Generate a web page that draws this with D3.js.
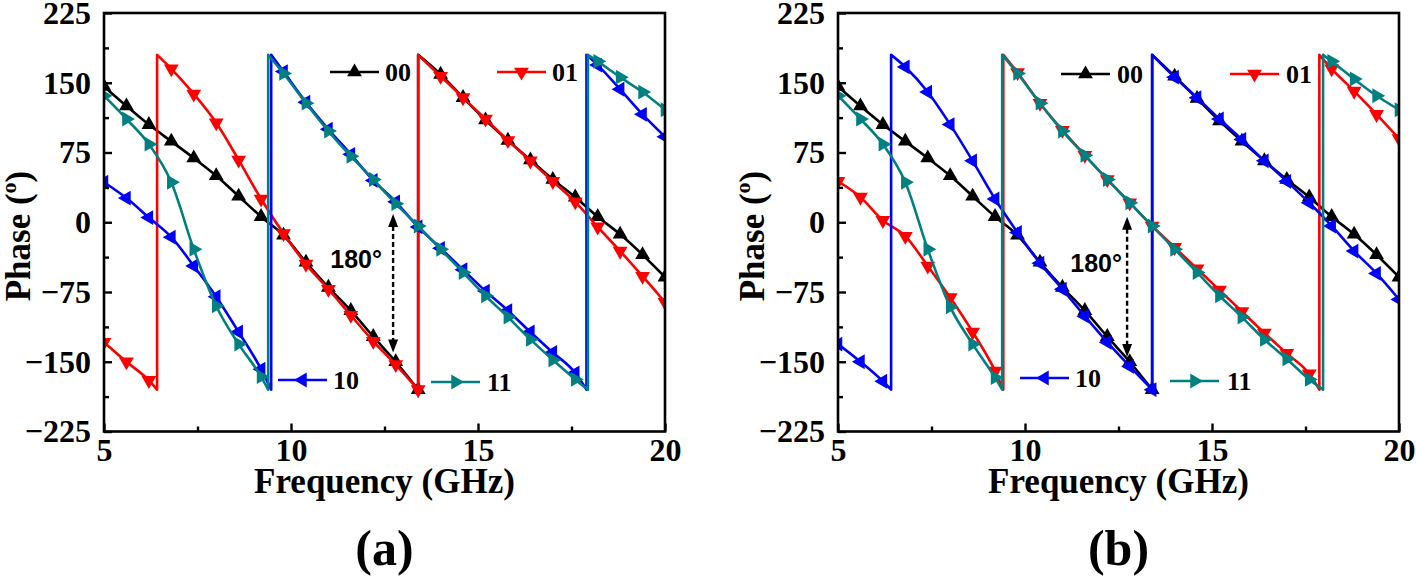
<!DOCTYPE html>
<html><head><meta charset="utf-8">
<script src="https://cdn.jsdelivr.net/npm/d3@7/dist/d3.min.js"></script>
<style>
body{margin:0;background:#fff}
#chart text{font-family:"Liberation Serif";font-weight:bold}
#chart text.sans{font-family:"Liberation Sans"}
</style>
</head><body>
<svg id="chart" width="1416" height="579"></svg>
<script>
// ---------- data ----------
const xTicks = [5, 10, 15, 20];
const xMinor = [7.5, 12.5, 17.5];
const yTicks = [-225, -150, -75, 0, 75, 150, 225];
const yMinor = [-187.5, -112.5, -37.5, 37.5, 112.5, 187.5];
const seriesNames = ["00", "01", "10", "11"];
const seriesColors = ["#000000", "#ff0000", "#0000ff", "#008080"];
const seriesShapes = ["up", "down", "left", "right"];
const panelLabels = ["(a)", "(b)"];

// panel (a) phase (deg) vs frequency (GHz); repeated frequency = phase wrap
const a00 = [[5.0,146],[5.6,125],[6.2,105],[6.8,87],[7.4,69],[8.0,50],[8.6,28],[9.2,6],[9.8,-14],[10.4,-43],[11.0,-70],[11.6,-95],[12.2,-123],[12.8,-150],[13.4,-180],[13.4,180],[14.0,159],[14.6,134],[15.2,110],[15.8,88],[16.4,67],[17.0,46],[17.6,27],[18.2,6],[18.8,-13],[19.4,-35],[20.0,-59]];
const a01 = [[5.0,-129],[5.6,-150],[6.2,-170],[6.42,-180],[6.42,180],[6.8,165],[7.4,138],[8.0,107],[8.6,67],[9.2,25],[9.8,-12],[10.4,-45],[11.0,-72],[11.6,-100],[12.2,-128],[12.8,-153],[13.4,-180],[13.4,180],[14.0,157],[14.6,134],[15.2,111],[15.8,88],[16.4,66],[17.0,44],[17.6,22],[18.2,-5],[18.8,-31],[19.4,-58],[20.0,-86]];
const a10 = [[5.0,43],[5.6,26],[6.2,5],[6.8,-16],[7.4,-47],[8.0,-80],[8.6,-118],[9.2,-158],[9.47,-180],[9.47,180],[9.8,162],[10.4,129],[11.0,100],[11.6,73],[12.2,45],[12.8,22],[13.4,-5],[14.0,-28],[14.6,-51],[15.2,-74],[15.8,-95],[16.4,-118],[17.0,-140],[17.6,-162],[17.9,-180],[17.9,180],[18.2,169],[18.8,143],[19.4,116],[20.0,92]];
const a11 = [[5.0,136],[5.6,111],[6.2,84],[6.8,43],[7.4,-29],[8.0,-90],[8.6,-131],[9.2,-166],[9.39,-180],[9.39,180],[9.8,160],[10.4,128],[11.0,98],[11.6,71],[12.2,46],[12.8,20],[13.4,-4],[14.0,-29],[14.6,-54],[15.2,-79],[15.8,-102],[16.4,-126],[17.0,-148],[17.6,-169],[17.94,-180],[17.94,180],[18.2,173],[18.8,156],[19.4,140],[20.0,121]];

// panel (b)
const b00 = [[5.0,146],[5.6,125],[6.2,105],[6.8,87],[7.4,69],[8.0,50],[8.6,28],[9.2,6],[9.8,-14],[10.4,-43],[11.0,-70],[11.6,-95],[12.2,-123],[12.8,-150],[13.4,-180],[13.4,180],[14.0,157],[14.6,133],[15.2,109],[15.8,87],[16.4,66],[17.0,46],[17.6,27],[18.2,6],[18.8,-13],[19.4,-35],[20.0,-59]];
const b01 = [[5.0,44],[5.6,27],[6.2,2],[6.8,-15],[7.4,-47],[8.0,-81],[8.6,-118],[9.2,-160],[9.42,-180],[9.42,180],[9.8,161],[10.4,128],[11.0,99],[11.6,72],[12.2,46],[12.8,21],[13.4,-4],[14.0,-27],[14.6,-50],[15.2,-73],[15.8,-96],[16.4,-119],[17.0,-141],[17.6,-163],[17.87,-180],[17.87,180],[18.2,165],[18.8,141],[19.4,116],[20.0,90]];
const b10 = [[5.0,-131],[5.6,-150],[6.2,-171],[6.42,-180],[6.42,180],[6.8,167],[7.4,140],[8.0,105],[8.6,66],[9.2,25],[9.8,-11],[10.4,-44],[11.0,-72],[11.6,-101],[12.2,-129],[12.8,-155],[13.4,-180],[13.4,180],[14.0,156],[14.6,134],[15.2,111],[15.8,89],[16.4,66],[17.0,44],[17.6,21],[18.2,-4],[18.8,-31],[19.4,-55],[20.0,-83]];
const b11 = [[5.0,136],[5.6,111],[6.2,84],[6.8,43],[7.4,-29],[8.0,-91],[8.6,-131],[9.2,-167],[9.39,-180],[9.39,180],[9.8,160],[10.4,128],[11.0,98],[11.6,72],[12.2,46],[12.8,21],[13.4,-4],[14.0,-29],[14.6,-54],[15.2,-79],[15.8,-102],[16.4,-126],[17.0,-147],[17.6,-169],[17.97,-180],[17.97,180],[18.2,173],[18.8,154],[19.4,136],[20.0,121]];

// annotation: 180 degree difference arrow [freq, phaseTop, phaseBottom]
const arrowA = [12.73, 9, -140];
const arrowB = [12.73, 6, -145];

// ---------- layout ----------
const svg = d3.select("#chart");
const plotTop = 13, plotBottom = 431.5, plotW = 561;
const markerStep = 0.6;

const panels = [
  {left: 104, data: [a00, a01, a10, a11], arrow: arrowA, label: panelLabels[0],
   legend: [[226, 72, 281], [393, 72, 448], [174, 380, 229], [327, 382, 383]],
   lab180: [382, 268]},
  {left: 838, data: [b00, b01, b10, b11], arrow: arrowB, label: panelLabels[1],
   legend: [[223, 74, 279], [392, 74, 448], [182, 378, 237], [332, 381, 389]],
   lab180: [1122, 272]}
];

const rot = {up: 0, down: 180, left: -90, right: 90};
const sym = d3.symbol().type(d3.symbolTriangle).size(95);
const serifText = (sel, size) => sel.style("font-family", '"Liberation Serif"').style("font-weight", "bold")
  .style("font-size", size + "px").attr("fill", "#000");

panels.forEach((P, pi) => {
  const x = d3.scaleLinear().domain([5, 20]).range([P.left, P.left + plotW]);
  const y = d3.scaleLinear().domain([-225, 225]).range([plotBottom, plotTop]);
  const g = svg.append("g");

  const clipId = "clip" + pi;
  svg.append("clipPath").attr("id", clipId).append("rect")
    .attr("x", P.left).attr("y", plotTop).attr("width", plotW).attr("height", plotBottom - plotTop);

  const plot = g.append("g").attr("clip-path", `url(#${clipId})`);
  const line = d3.line().x(d => x(d[0])).y(d => y(d[1])).curve(d3.curveMonotoneX);

  P.data.forEach((pts, si) => {
    const segs = [[pts[0]]];
    for (let i = 1; i < pts.length; i++) {
      if (pts[i][0] === pts[i - 1][0]) segs.push([pts[i]]);
      else segs[segs.length - 1].push(pts[i]);
    }
    const d = segs.map((s, i) => { const p = line(s); return i ? "L" + p.slice(1) : p; }).join("");
    plot.append("path").attr("d", d).attr("fill", "none")
      .attr("stroke", seriesColors[si]).attr("stroke-width", 2.6).attr("stroke-linejoin", "round");
    const seen = new Set();
    pts.forEach(p => {
      const k = (p[0] - 5) / markerStep;
      if (Math.abs(k - Math.round(k)) > 1e-6) return;
      const key = Math.round(k);
      if (seen.has(key)) return;
      seen.add(key);
      plot.append("path").attr("d", sym)
        .attr("transform", `translate(${x(p[0])},${y(p[1])}) rotate(${rot[seriesShapes[si]]})`)
        .attr("fill", seriesColors[si]);
    });
  });

  const axStyle = sel => {
    sel.select(".domain").remove();
    sel.selectAll("line").attr("stroke", "#000").attr("stroke-width", 2.4);
    sel.selectAll("text").call(serifText, 32);
  };
  g.append("g").attr("transform", `translate(0,${plotBottom})`)
    .call(d3.axisBottom(x).tickValues(xTicks).tickFormat(d3.format("d")).tickSizeInner(-8).tickSizeOuter(0).tickPadding(7))
    .call(axStyle);
  g.append("g").attr("transform", `translate(0,${plotBottom})`)
    .call(d3.axisBottom(x).tickValues(xMinor).tickFormat("").tickSizeInner(-5).tickSizeOuter(0))
    .call(axStyle);
  g.append("g").attr("transform", `translate(${P.left},0)`)
    .call(d3.axisLeft(y).tickValues(yTicks).tickFormat(d3.format("d")).tickSizeInner(-8).tickSizeOuter(0).tickPadding(13))
    .call(axStyle);
  g.append("g").attr("transform", `translate(${P.left},0)`)
    .call(d3.axisLeft(y).tickValues(yMinor).tickFormat("").tickSizeInner(-5).tickSizeOuter(0))
    .call(axStyle);

  g.append("rect").attr("x", P.left).attr("y", plotTop).attr("width", plotW).attr("height", plotBottom - plotTop)
    .attr("fill", "none").attr("stroke", "#000").attr("stroke-width", 2.6);

  g.append("text").attr("x", P.left + plotW / 2).attr("y", 493).attr("text-anchor", "middle")
    .call(serifText, 35).text("Frequency (GHz)");
  const yt = g.append("text").attr("transform", `translate(${P.left - 74},236) rotate(-90)`)
    .attr("text-anchor", "middle").call(serifText, 35);
  yt.append("tspan").text("Phase (");
  yt.append("tspan").attr("dy", -14).style("font-size", "22px").text("o");
  yt.append("tspan").attr("dy", 14).text(")");

  g.append("text").attr("x", P.left + plotW / 2).attr("y", 565).attr("text-anchor", "middle")
    .call(serifText, 50).text(P.label);

  P.legend.forEach((L, si) => {
    const lx = P.left + L[0], ly = L[1];
    g.append("line").attr("x1", lx).attr("x2", lx + 49).attr("y1", ly).attr("y2", ly)
      .attr("stroke", seriesColors[si]).attr("stroke-width", 2.6);
    g.append("path").attr("d", sym)
      .attr("transform", `translate(${lx + 24.5},${ly}) rotate(${rot[seriesShapes[si]]})`)
      .attr("fill", seriesColors[si]);
    g.append("text").attr("x", P.left + L[2]).attr("y", ly).attr("dy", "0.35em")
      .call(serifText, 26).text(seriesNames[si]);
  });

  const ax = x(P.arrow[0]), yTop = y(P.arrow[1]), yBot = y(P.arrow[2]);
  const headL = 13, headW = 5;
  g.append("line").attr("x1", ax).attr("x2", ax).attr("y1", yTop + headL - 1).attr("y2", yBot - headL + 1)
    .attr("stroke", "#000").attr("stroke-width", 2.4).attr("stroke-dasharray", "5,3");
  g.append("path").attr("d", `M${ax},${yTop}L${ax - headW},${yTop + headL}L${ax + headW},${yTop + headL}Z`).attr("fill", "#000");
  g.append("path").attr("d", `M${ax},${yBot}L${ax - headW},${yBot - headL}L${ax + headW},${yBot - headL}Z`).attr("fill", "#000");
  g.append("text").attr("class", "sans").attr("x", P.lab180[0]).attr("y", P.lab180[1]).attr("text-anchor", "end")
    .style("font-family", '"Liberation Sans"').style("font-weight", "bold").style("font-size", "25px").attr("fill", "#000")
    .text("180°");
});
</script>
</body></html>
